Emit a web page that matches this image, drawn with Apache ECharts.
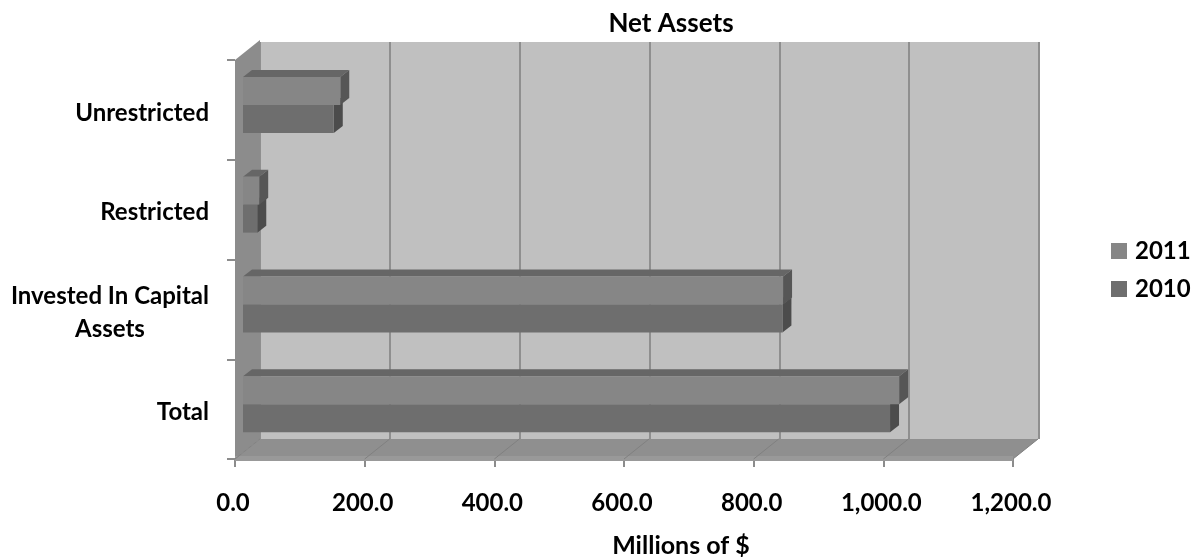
<!DOCTYPE html>
<html><head><meta charset="utf-8">
<style>html,body{margin:0;padding:0;background:#fff}#c{width:1199px;height:557px}</style>
<script src="https://cdn.jsdelivr.net/npm/echarts@6/dist/echarts.min.js"></script>
</head><body><div id="c"></div>
<script>
const categories = ['Total', 'Invested In Capital\nAssets', 'Restricted', 'Unrestricted'];
const values2011 = [1012, 833, 25, 150];
const values2010 = [998, 832, 22, 140];
const xTicks = [0, 200, 400, 600, 800, 1000, 1200];

const FONT = 'Lato';
const WALL = [25, -20];
const DEPTH = [9, -7];
const SHIFT = [8, -5];
const BAR = 28;

function barRenderer(front, top, side, above) {
  return function (params, api) {
    const cat = api.value(1);
    const s = api.coord([0, cat]);
    const e = api.coord([api.value(0), cat]);
    const x0 = s[0] + SHIFT[0], x1 = e[0] + SHIFT[0];
    const y0 = s[1] + SHIFT[1] + (above ? -BAR : 0), y1 = y0 + BAR;
    const poly = (points, fill) => ({ type: 'polygon', shape: { points }, style: { fill } });
    return { type: 'group', children: [
      poly([[x0, y0], [x0 + DEPTH[0], y0 + DEPTH[1]], [x1 + DEPTH[0], y0 + DEPTH[1]], [x1, y0]], top),
      poly([[x1, y0], [x1 + DEPTH[0], y0 + DEPTH[1]], [x1 + DEPTH[0], y1 + DEPTH[1]], [x1, y1]], side),
      { type: 'rect', shape: { x: x0, y: y0, width: x1 - x0, height: BAR }, style: { fill: front } }
    ] };
  };
}

const option = {
  animation: false,
  backgroundColor: '#fff',
  title: { text: 'Net Assets', left: 666, top: 6, textAlign: 'center',
    textStyle: { fontFamily: FONT, fontWeight: 'bold', fontSize: 26, color: '#000' } },
  legend: { data: ['2011', '2010'], orient: 'vertical', left: 1106, top: 234, itemWidth: 16, itemHeight: 16, itemGap: 14,
    icon: 'rect', selectedMode: false,
    textStyle: { fontFamily: FONT, fontWeight: 'bold', fontSize: 24, color: '#000', padding: [0, 0, 0, 3] } },
  grid: [
    { left: 260, right: 160, top: 42, bottom: 118, show: true, backgroundColor: '#c0c0c0', borderWidth: 0, outerBoundsMode: 'none' },
    { left: 235, right: 186, top: 60, bottom: 98, outerBoundsMode: 'none' }
  ],
  xAxis: [
    { gridIndex: 0, type: 'value', min: 0, max: 1200, interval: 200,
      axisLabel: { show: false }, axisTick: { show: false }, axisLine: { show: false },
      splitLine: { show: true, lineStyle: { color: '#8f8f8f', width: 2 } } },
    { gridIndex: 1, type: 'value', min: 0, max: 1200, interval: 200, name: 'Millions of $',
      nameLocation: 'middle', nameGap: 74, nameMoveOverlap: false,
      nameTextStyle: { fontFamily: FONT, fontWeight: 'bold', fontSize: 25, color: '#000', padding: [0, 0, 0, 114] },
      axisLabel: { margin: 32, fontFamily: FONT, fontWeight: 'bold', fontSize: 24, color: '#000',
        padding: [0, 4, 0, 0], hideOverlap: false, showMinLabel: true, showMaxLabel: true,
        formatter: v => v.toLocaleString('en-US', { minimumFractionDigits: 1, maximumFractionDigits: 1 }) },
      axisTick: { show: true, length: 8, lineStyle: { color: '#8c8c8c', width: 2 } },
      axisLine: { show: false }, splitLine: { show: false } }
  ],
  yAxis: [
    { gridIndex: 0, type: 'value', min: 0, max: 1, axisLabel: { show: false }, axisTick: { show: false },
      axisLine: { show: false }, splitLine: { show: false } },
    { gridIndex: 1, type: 'category', data: categories,
      axisLabel: { margin: 26, interval: 0, fontFamily: FONT, fontWeight: 'bold', fontSize: 24, color: '#000', lineHeight: 33,
        padding: [6, 0, 0, 0],
        formatter: v => v.includes('\n') ? v.split('\n').map(t => '{m|' + t + '}').join('\n') : v,
        rich: { m: { align: 'center', fontFamily: FONT, fontWeight: 'bold', fontSize: 24, color: '#000', lineHeight: 33 } } },
      axisTick: { show: true, length: 8, lineStyle: { color: '#8c8c8c', width: 2 } },
      axisLine: { show: false }, splitLine: { show: false } }
  ],
  series: [
    { type: 'custom', name: 'frame', xAxisIndex: 1, yAxisIndex: 1, z: 1, silent: true,
      data: [[0, 0]], encode: { x: 0, y: 1 },
      renderItem: (params) => {
        const g = params.coordSys;
        const L = g.x, R = g.x + g.width, T = g.y, B = g.y + g.height;
        return { type: 'group', children: [
          { type: 'polygon', shape: { points: [[L, T], [L + WALL[0], T + WALL[1]], [L + WALL[0], B + WALL[1]], [L, B]] },
            style: { fill: '#8c8c8c' } },
          { type: 'polygon', shape: { points: [[L, B], [L + WALL[0], B + WALL[1]], [R + WALL[0], B + WALL[1]], [R, B]] },
            style: { fill: '#8f8f8f' } },
          { type: 'rect', shape: { x: L, y: B - 3, width: R - L, height: 5 }, style: { fill: '#999999' } }
        ] };
      } },
    { type: 'custom', name: 'floorLines', xAxisIndex: 1, yAxisIndex: 1, z: 2, silent: true,
      data: xTicks.map(t => [t, 0]), encode: { x: 0, y: 1 },
      renderItem: (params, api) => {
        const g = params.coordSys, B = g.y + g.height;
        const x = api.coord([api.value(0), 0])[0];
        return { type: 'line', shape: { x1: x, y1: B, x2: x + WALL[0], y2: B + WALL[1] },
          style: { stroke: '#808080', lineWidth: 1 } };
      } },
    { type: 'custom', name: '2011', xAxisIndex: 1, yAxisIndex: 1, z: 5,
      itemStyle: { color: '#868686' },
      data: categories.map((c, i) => [values2011[i], i]), encode: { x: 0, y: 1 },
      renderItem: barRenderer('#868686', '#666666', '#565656', true) },
    { type: 'custom', name: '2010', xAxisIndex: 1, yAxisIndex: 1, z: 4,
      itemStyle: { color: '#6e6e6e' },
      data: categories.map((c, i) => [values2010[i], i]), encode: { x: 0, y: 1 },
      renderItem: barRenderer('#6e6e6e', '#5a5a5a', '#4c4c4c', false) }
  ]
};
echarts.init(document.getElementById('c'), null, { renderer: 'canvas' }).setOption(option);
</script></body></html>
